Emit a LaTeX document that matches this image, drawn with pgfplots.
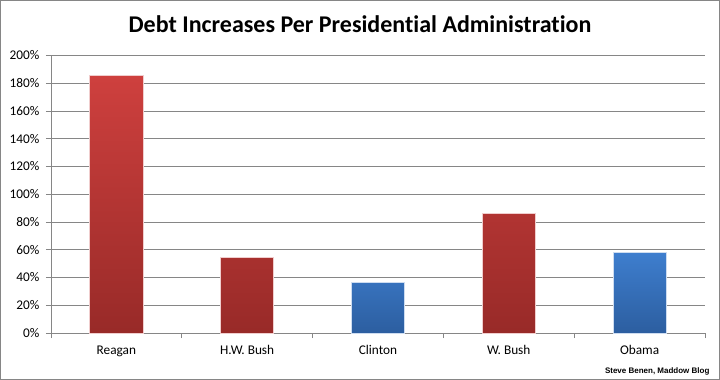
\documentclass[border=0pt]{standalone}
\usepackage{fontspec}
\setmainfont{Carlito}[Ligatures=NoCommon]
\newfontfamily\arialfont{Liberation Sans}
\usepackage{pgfplots}
\pgfplotsset{compat=1.18}
\definecolor{gridgray}{RGB}{134,134,134}
\definecolor{redtop}{RGB}{206,64,62}
\definecolor{redbot}{RGB}{152,42,40}
\definecolor{bluetop}{RGB}{62,126,206}
\definecolor{bluebot}{RGB}{44,94,160}
\definecolor{redglow}{RGB}{240,205,205}
\definecolor{blueglow}{RGB}{205,220,240}
\begin{document}
\begin{tikzpicture}[x=1pt,y=1pt]
\path[use as bounding box] (0pt,0pt) rectangle (720pt,380pt);
\draw[gridgray, line width=1pt] (0.5pt,0.5pt) rectangle (719.5pt,379.5pt);
\node[font=\fontsize{24}{28}\selectfont\bfseries, anchor=base] at (360pt,347pt) {Debt Increases Per Presidential Administration};
\node[font=\arialfont\fontsize{8}{9}\selectfont\bfseries, anchor=base east] at (713pt,6.3pt) {Steve Benen, Maddow Blog};
\begin{axis}[
  at={(51pt,47pt)}, anchor=south west,
  scale only axis, width=654pt, height=277.5pt,
  xmin=-0.5, xmax=4.5, ymin=0, ymax=200,
  axis lines=left, axis line style={gridgray, line width=0.8pt, -},
  ytick={0,20,...,200},
  yticklabel={\pgfmathprintnumber{\tick}\%},
  /pgf/number format/assume math mode=true,
  ymajorgrids, grid style={gridgray, line width=0.8pt},
  xtick={0,1,2,3,4},
  xticklabels={Reagan, H.W. Bush, Clinton, W. Bush, Obama},
  minor xtick={-0.5,0.5,1.5,2.5,3.5,4.5},
  tick align=outside,
  major tick length=5pt, minor tick length=5pt,
  major x tick style={draw=none},
  minor x tick style={gridgray, line width=0.8pt},
  y tick style={gridgray, line width=0.8pt},
  tick label style={font=\fontsize{13.3}{15}\selectfont, text=black},
  xticklabel style={yshift=-4pt},
  yticklabel style={xshift=-3pt},
  clip=false,
]
\addplot[ybar, bar width=53pt, bar shift=0pt, draw=redglow, line width=0.8pt, top color=redtop, bottom color=redbot]
  coordinates {(0,185.4) (1,54.3) (3,86)};
\addplot[ybar, bar width=53pt, bar shift=0pt, draw=blueglow, line width=0.8pt, top color=bluetop, bottom color=bluebot]
  coordinates {(2,36.6) (4,58)};
\end{axis}
\end{tikzpicture}
\end{document}
